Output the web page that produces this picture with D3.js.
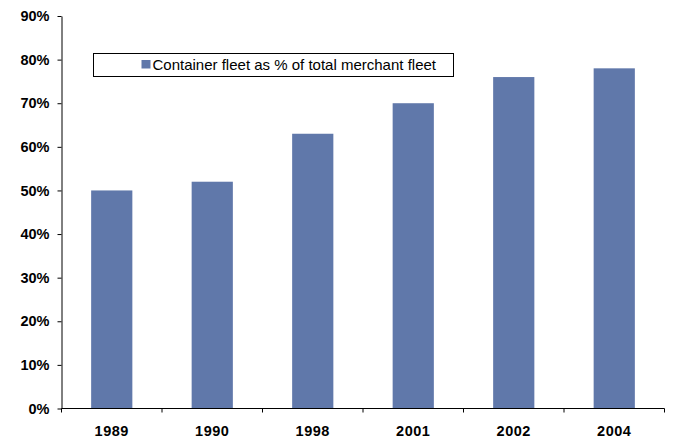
<!DOCTYPE html>
<html>
<head>
<meta charset="utf-8">
<script src="https://cdn.jsdelivr.net/npm/d3@7"></script>
<style>
  html, body { margin: 0; padding: 0; background: #fff; }
  svg { display: block; }
</style>
</head>
<body>
<svg id="chart" width="673" height="441"></svg>
<script>
// Container fleet share of total merchant fleet, by year
const years = ["1989", "1990", "1998", "2001", "2002", "2004"];
const shares = [50, 52, 63, 70, 76, 78];
const yTicks = [0, 10, 20, 30, 40, 50, 60, 70, 80, 90];
const legendLabel = "Container fleet as % of total merchant fleet";

const svg = d3.select("#chart");
const plotLeft = 61.5, plotRight = 664.5, plotTop = 16, plotBottom = 408.5;
const barColor = "#6078AA";
const fontFamily = "Liberation Sans, Arial, sans-serif";

const x = d3.scaleBand().domain(years).range([plotLeft, plotRight]).paddingInner(0.59).paddingOuter(0.295);
const y = d3.scaleLinear().domain([0, 90]).range([plotBottom, plotTop]);

// Bars
svg.append("g").selectAll("rect")
  .data(years.map((yr, i) => ({ yr, v: shares[i] })))
  .join("rect")
  .attr("x", d => x(d.yr))
  .attr("y", d => y(d.v))
  .attr("width", x.bandwidth())
  .attr("height", d => y(0) - y(d.v))
  .attr("fill", barColor);

// Y axis
const yAxis = svg.append("g")
  .attr("transform", `translate(${plotLeft},0)`)
  .call(d3.axisLeft(y).tickValues(yTicks).tickFormat(d => d + "%").tickSize(4).tickSizeOuter(0).tickPadding(8));
yAxis.select(".domain").attr("stroke", "#000");
yAxis.selectAll(".tick line").attr("stroke", "#000");
yAxis.selectAll("text")
  .attr("font-family", fontFamily)
  .attr("font-size", 14.5).attr("font-weight", "bold").attr("fill", "#000");

// X axis: ticks sit on the category boundaries
const xAxis = svg.append("g").attr("transform", `translate(0,${plotBottom})`);
xAxis.append("line").attr("x1", plotLeft).attr("x2", plotRight).attr("stroke", "#000");
xAxis.selectAll("line.tk").data(d3.range(years.length + 1)).join("line")
  .attr("class", "tk")
  .attr("x1", i => plotLeft + i * (plotRight - plotLeft) / years.length)
  .attr("x2", i => plotLeft + i * (plotRight - plotLeft) / years.length)
  .attr("y1", 0).attr("y2", 4).attr("stroke", "#000");
xAxis.selectAll("text").data(years).join("text")
  .attr("x", d => x(d) + x.bandwidth() / 2)
  .attr("y", 27)
  .attr("text-anchor", "middle")
  .attr("font-family", fontFamily)
  .attr("font-size", 14.5).attr("font-weight", "bold").attr("fill", "#000")
  .attr("letter-spacing", 0.5)
  .text(d => d);

// Legend
const lg = svg.append("g");
lg.append("rect").attr("x", 93.5).attr("y", 53.5).attr("width", 360).attr("height", 23)
  .attr("fill", "#fff").attr("stroke", "#000");
lg.append("rect").attr("x", 141.5).attr("y", 60).attr("width", 9).attr("height", 8.5).attr("fill", barColor);
lg.append("text").attr("x", 152.5).attr("y", 70)
  .attr("font-family", fontFamily)
  .attr("font-size", 15).attr("fill", "#000")
  .text(legendLabel);
</script>
</body>
</html>
